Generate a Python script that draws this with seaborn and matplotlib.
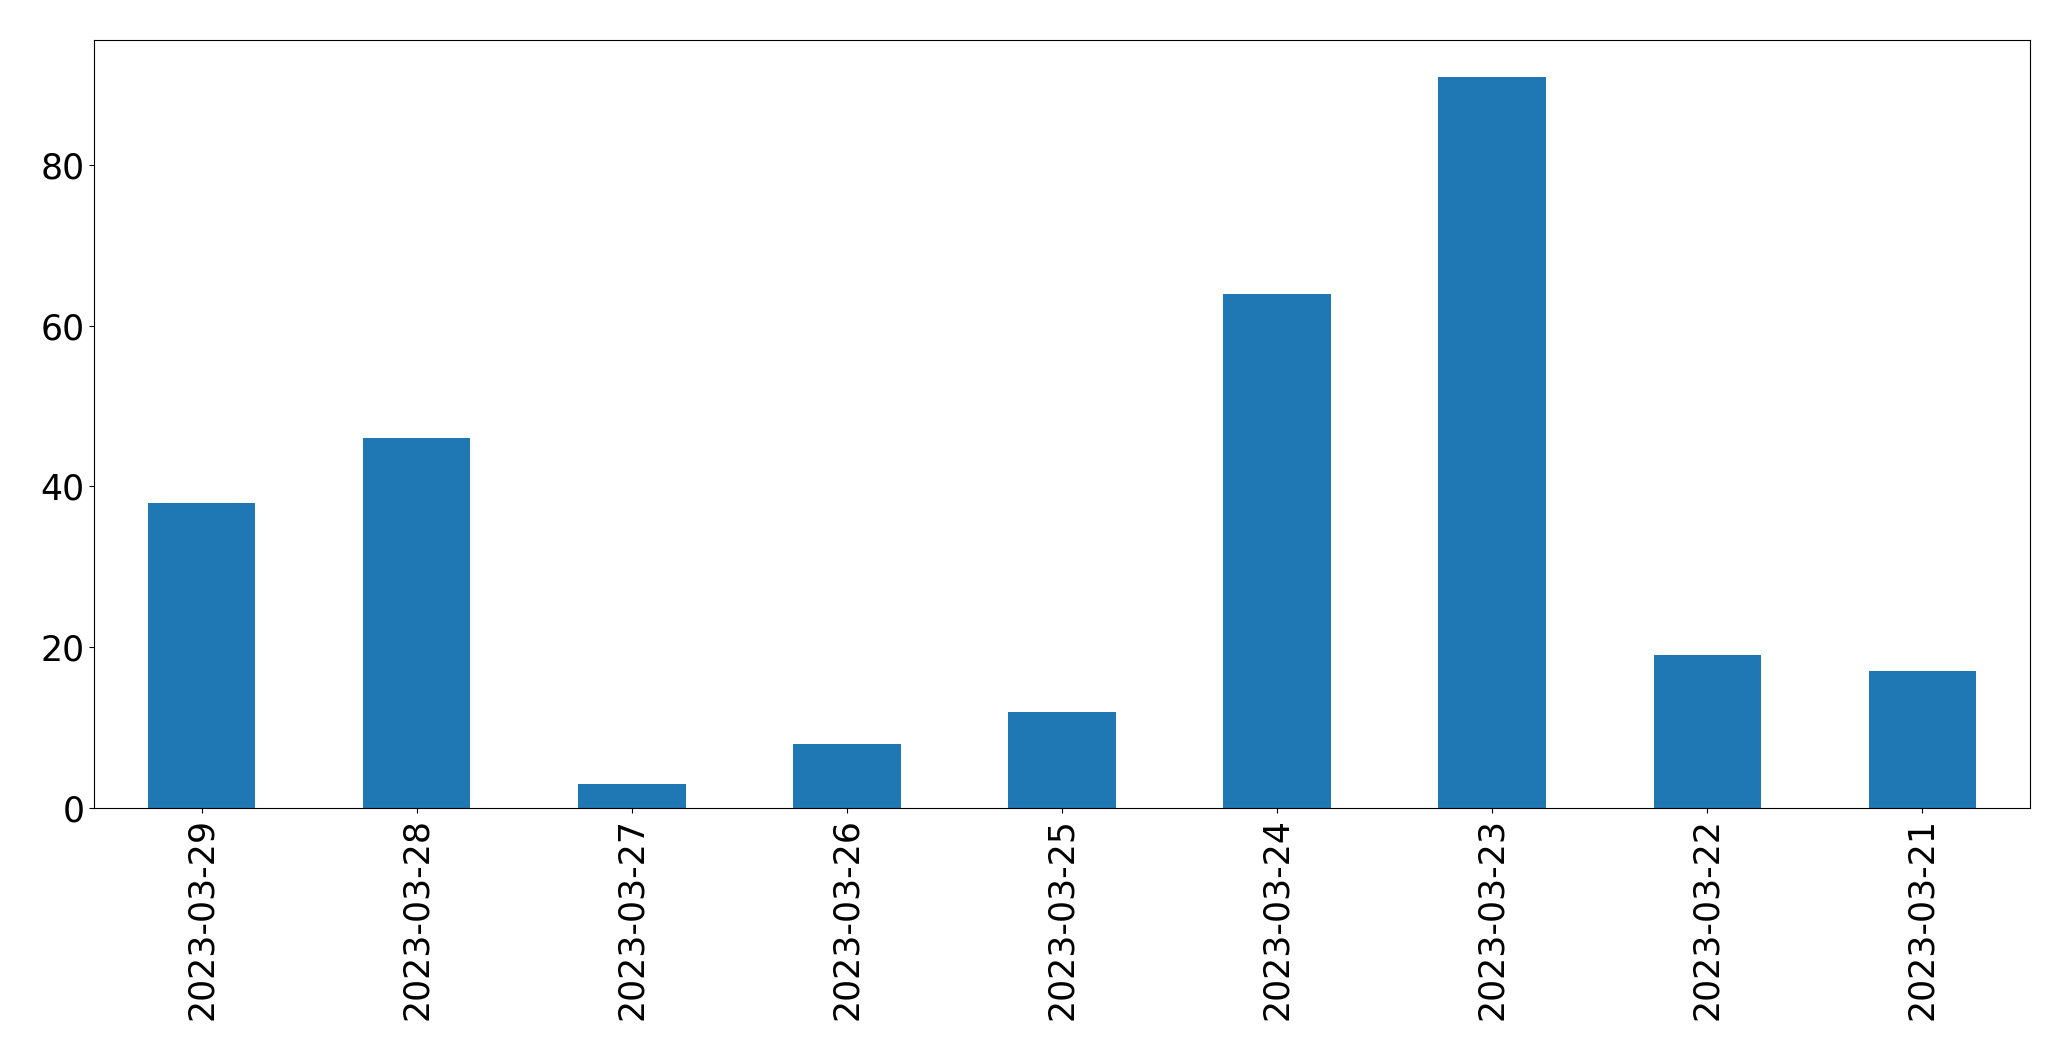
import pandas as pd
import seaborn as sns
import matplotlib.pyplot as plt

# --- data ---
dates = ['2023-03-29', '2023-03-28', '2023-03-27', '2023-03-26', '2023-03-25',
         '2023-03-24', '2023-03-23', '2023-03-22', '2023-03-21']
counts = [38, 46, 3, 8, 12, 64, 91, 19, 17]

df = pd.DataFrame({'date': dates, 'count': counts})

fig, ax = plt.subplots(figsize=(20.71, 10.61), dpi=100)
fig.subplots_adjust(left=0.0454, right=0.9802, top=0.9623, bottom=0.2385)

sns.barplot(data=df, x='date', y='count', order=dates, color='#1f77b4',
            saturation=1, width=0.5, ax=ax)

ax.set_xlabel('')
ax.set_ylabel('')
ax.set_xlim(-0.5, len(dates) - 0.5)
for side in ax.spines.values():
    side.set_edgecolor('black')
ax.tick_params(axis='both', labelsize=25)
ax.tick_params(axis='x', labelrotation=90)

plt.savefig('out.png', dpi=100)
